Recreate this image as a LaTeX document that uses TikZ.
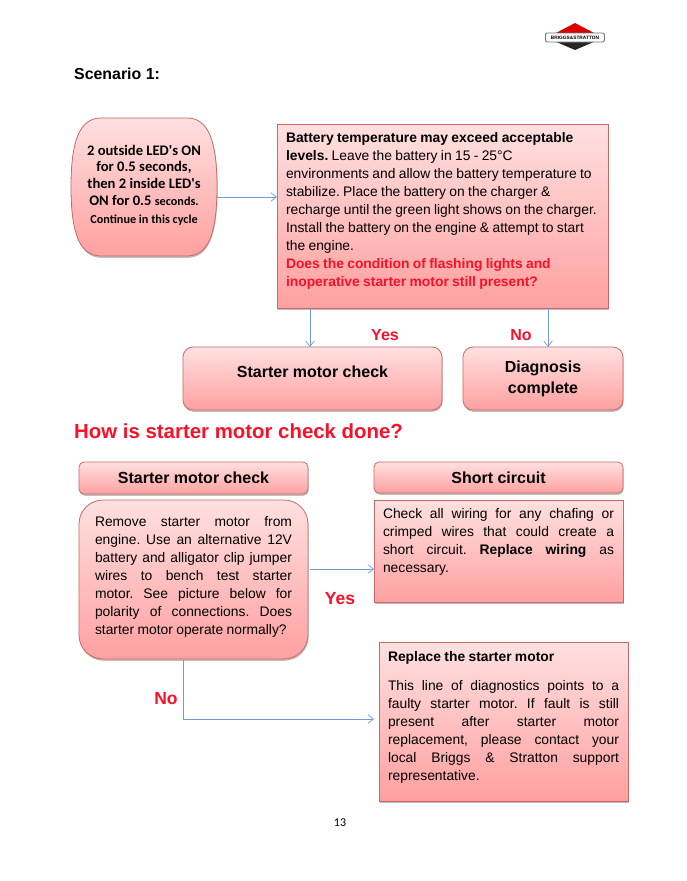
\documentclass[tikz,border=0pt]{standalone}
\usepackage{fontspec}
\setmainfont{Liberation Sans}
\newfontfamily\calfont{Carlito}
\usetikzlibrary{arrows.meta,shadows}
\definecolor{bordc}{HTML}{C96868}
\definecolor{toppink}{HTML}{FFE0E0}
\definecolor{botpink}{HTML}{FFA0A0}
\definecolor{linkc}{HTML}{6F9BD6}
\definecolor{alert}{HTML}{FA1028}
\newcommand\jl[1]{\hbox to \hsize{\spaceskip=.278em plus 1fil\relax\xspaceskip=\spaceskip #1}}
\newcommand\tb[3]{\parbox[c][#1pt][t]{\hsize}{\vspace*{#2pt}\frenchspacing\fontsize{13.85}{18.1}\selectfont #3}}
\newcommand\rd[1]{\textcolor{alert}{\textbf{#1}}}
\newcommand\stackedlabel[2]{\raisebox{8pt}{\begin{tabular}{@{}c@{}}#1\\#2\end{tabular}}}
\tikzset{
 x=1pt,y=-1pt,
 softshadow/.style={drop shadow={shadow xshift=0.6pt,shadow yshift=-1.8pt,opacity=.25,fill=black}},
 pinkbox/.style={draw=bordc,line width=.8pt,top color=toppink,bottom color=botpink,softshadow,anchor=north west,inner sep=0pt,outer sep=0pt},
 roundbox/.style={pinkbox,rounded corners=#1},
 link/.style={draw=linkc,line width=.8pt,-{Straight Barb[length=5.5pt,width=8.5pt,line width=.7pt]}},
 hl/.style={text=alert,font=\fontsize{16}{18}\selectfont\bfseries},
 lab/.style={font=\fontsize{16}{21}\selectfont\bfseries,align=center},
}
\begin{document}
\begin{tikzpicture}
\useasboundingbox[fill=white] (0,0) rectangle (686,881);
% logo
\fill[red!85!black] (575,23) -- (596,34) -- (554,34) -- cycle;
\fill[black!85] (575,50) -- (596,41) -- (554,41) -- cycle;
\node[draw=black!55,fill=white,rounded corners=2pt,line width=.9pt,minimum width=59pt,minimum height=9pt,inner sep=0pt,font=\fontsize{4.8}{5}\selectfont\bfseries] (logo) at (575,37.5) {BRIGGS\&STRATTON};
% titles
\node[anchor=base west,inner sep=0pt,font=\fontsize{15.9}{18}\selectfont\bfseries] (scen) at (74,79) {Scenario 1:};
\node[anchor=base west,inner sep=0pt,text=alert,font=\fontsize{20.4}{24}\selectfont\bfseries] (how) at (74,438) {How is starter motor check done?};
% LED barrel
\path[draw=bordc,line width=.8pt,top color=toppink,bottom color=botpink,softshadow]
 (71,187) .. controls (71,140) and (80,118) .. (101,118) -- (187,118)
 .. controls (208,118) and (217,140) .. (217,187) .. controls (217,234) and (208,256) .. (187,256)
 -- (101,256) .. controls (80,256) and (71,234) .. (71,187) -- cycle;
\node[minimum width=146pt,minimum height=134pt,inner sep=0pt,outer sep=0pt,align=center,font=\calfont\bfseries\fontsize{14.6}{16.8}\selectfont] (led) at (144,185)
 {2 outside LED's ON\\for 0.5 seconds,\\then 2 inside LED's\\ON for 0.5 {\fontsize{12.2}{16.8}\selectfont seconds.}\\[1pt]{\fontsize{12.2}{16.8}\selectfont Continue in this cycle}};
% battery box
\node[pinkbox,minimum width=331pt,minimum height=184pt,inner xsep=9pt,text width=313pt] (batt) at (277,124)
 {\tb{184}{8}{\textbf{Battery temperature may exceed acceptable}\\
 \textbf{levels.} Leave the battery in 15 - 25°C\\
 environments and allow the battery temperature to\\
 stabilize. Place the battery on the charger \&\\
 recharge until the green light shows on the charger.\\
 Install the battery on the engine \& attempt to start\\
 the engine.\\
 \rd{Does the condition of flashing lights and}\\
 \rd{inoperative starter motor still present?}}};
\node[roundbox=10pt,minimum width=259pt,minimum height=63pt,lab] (start1) at (183,347) {\raisebox{1.5pt}[0pt][0pt]{Starter motor check}};
\node[roundbox=10pt,minimum width=160pt,minimum height=63pt,lab] (diag) at (463,347) {\stackedlabel{Diagnosis}{complete}};
\node[hl] (yes1) at (385,335) {Yes};
\node[hl] (no1) at (521,335) {No};
% lower part
\node[roundbox=5pt,minimum width=229pt,minimum height=32pt,lab] (head1) at (79,462) {Starter motor check};
\node[roundbox=5pt,minimum width=249pt,minimum height=31pt,lab] (head2) at (374,462) {Short circuit};
\node[roundbox=24pt,minimum width=229pt,minimum height=159pt,inner xsep=16pt,text width=197pt] (bench) at (79,500)
 {\tb{159}{16}{\jl{Remove starter motor from}\jl{engine. Use an alternative 12V}\jl{battery and alligator clip jumper}\jl{wires to bench test starter}\jl{motor. See picture below for}\jl{polarity of connections. Does}starter motor operate normally?}};
\node[pinkbox,minimum width=249pt,minimum height=102pt,inner xsep=9pt,text width=231pt] (short) at (374,500)
 {\tb{102}{8}{\jl{Check all wiring for any chafing or}\jl{crimped wires that could create a}\jl{short circuit. \textbf{Replace wiring} as}necessary.}};
\node[pinkbox,minimum width=249pt,minimum height=159pt,inner xsep=9pt,text width=231pt] (repl) at (379,642)
 {\tb{159}{9}{\textbf{Replace the starter motor}\par\vspace{11pt}\jl{This line of diagnostics points to a}\jl{faulty starter motor. If fault is still}\jl{present after starter motor}\jl{replacement, please contact your}\jl{local Briggs \& Stratton support}representative.}};
\node[hl,font=\fontsize{17.5}{18}\selectfont\bfseries] (yes2) at (340,599) {Yes};
\node[hl,font=\fontsize{17.5}{18}\selectfont\bfseries] (no2) at (166,699) {No};
\node[inner sep=0pt,font=\calfont\fontsize{12}{12}\selectfont] (pg) at (340,822.5) {13};
% connectors
\coordinate (xa) at (310,0);
\coordinate (xb) at (548,0);
\coordinate (ya) at (0,197);
\coordinate (yb) at (0,569);
\coordinate (xs) at (310,0);
\coordinate (xn) at (183,660);
\coordinate (noend) at (374,719);
\draw[link] (led.east |- ya) -- (batt.west |- ya);
\draw[link] (batt.south -| xa) -- (start1.north -| xa);
\draw[link] (batt.south -| xb) -- (diag.north -| xb);
\draw[link] (xs |- yb) -- (short.west |- yb);
\draw[link] (xn) |- (noend);
\end{tikzpicture}
\end{document}
